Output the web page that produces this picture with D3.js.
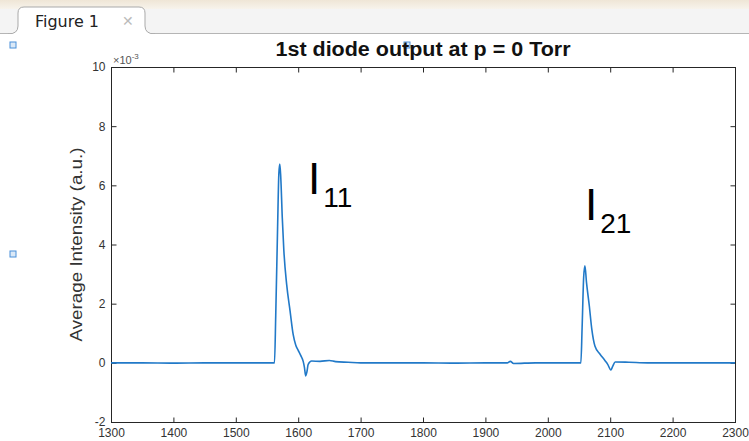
<!DOCTYPE html>
<html>
<head>
<meta charset="utf-8">
<script src="https://cdn.jsdelivr.net/npm/d3@7"></script>
<style>
  body { margin: 0; background: #fff; }
  svg { display: block; font-family: "Liberation Sans", Arial, sans-serif; }
</style>
</head>
<body>
<div id="chart"></div>
<script>
// time axis (x) and diode signal (y, in units of 1e-3)
var timeVals = [1300, 1350, 1400, 1450, 1500, 1540, 1562, 1564, 1567, 1569, 1570.5, 1572, 1574.5, 1577, 1581.5, 1587, 1592, 1596, 1600, 1604, 1608, 1610, 1612, 1614, 1616, 1621.5, 1635, 1650, 1660, 1680, 1700, 1750, 1800, 1850, 1900, 1935, 1940, 1945, 1980, 2020, 2053, 2055, 2057.5, 2059.5, 2062, 2066.5, 2070.5, 2075.5, 2083.5, 2091.5, 2096, 2101, 2104, 2108, 2130, 2160, 2200, 2250, 2300];
var signalVals = [0.0, 0.0, -0.01, 0.0, 0.0, 0.0, 0.0, 1.6, 4.6, 6.4, 6.72, 6.3, 4.9, 3.8, 2.65, 1.75, 0.95, 0.6, 0.42, 0.25, 0.05, -0.15, -0.44, -0.3, -0.05, 0.06, 0.05, 0.08, 0.04, 0.02, 0.0, 0.0, 0.0, -0.01, 0.0, 0.0, 0.05, -0.02, 0.0, 0.0, 0.0, 1.2, 2.9, 3.28, 2.72, 1.93, 1.14, 0.57, 0.3, 0.08, -0.05, -0.24, -0.12, 0.03, 0.02, 0.0, 0.0, 0.0, 0.0];

var xTicks = [1300, 1400, 1500, 1600, 1700, 1800, 1900, 2000, 2100, 2200, 2300];
var yTicks = [-2, 0, 2, 4, 6, 8, 10];

var W = 749, H = 441;
var margin = { left: 111, right: 14, top: 67, bottom: 19 };

var svg = d3.select("#chart").append("svg")
    .attr("width", W)
    .attr("height", H);

// window chrome (figure tab)
var grad = svg.append("defs").append("linearGradient")
    .attr("id", "topgrad").attr("x1", 0).attr("x2", 0).attr("y1", 0).attr("y2", 1);
grad.append("stop").attr("offset", "0%").attr("stop-color", "#efe6d6");
grad.append("stop").attr("offset", "100%").attr("stop-color", "#f7f3ec");
svg.append("rect").attr("x", 0).attr("y", 0).attr("width", W).attr("height", 9)
    .attr("fill", "url(#topgrad)");
svg.append("rect").attr("x", 0).attr("y", 9).attr("width", W).attr("height", 25)
    .attr("fill", "#f4f4f4");
svg.append("line").attr("x1", 0).attr("x2", W).attr("y1", 33.5).attr("y2", 33.5)
    .attr("stroke", "#b5b5b5");
svg.append("path")
    .attr("d", "M8,34 Q18,34 18,26 L18,13 Q18,7 24,7 L139,7 Q145,7 145,13 L145,26 Q145,34 155,34")
    .attr("fill", "#fff").attr("stroke", "#a9a9a9");
svg.append("text").attr("x", 35).attr("y", 27)
    .attr("font-family", "'DejaVu Sans', sans-serif")
    .attr("font-size", 15).attr("fill", "#222")
    .attr("textLength", 64).attr("lengthAdjust", "spacingAndGlyphs")
    .text("Figure 1");
svg.append("text").attr("x", 122).attr("y", 26)
    .attr("font-size", 14).attr("fill", "#bbb").text("\u2715");
svg.append("rect").attr("x", 0).attr("y", 34).attr("width", W).attr("height", H - 34)
    .attr("fill", "#fff");

// selection handles
[[13, 45], [407, 45], [13, 254]].forEach(function(p) {
  svg.append("rect").attr("x", p[0] - 3).attr("y", p[1] - 3)
      .attr("width", 6).attr("height", 6)
      .attr("fill", "#dbe9f7").attr("stroke", "#4a90d9").attr("stroke-width", 1);
});

var x = d3.scaleLinear().domain([1300, 2300]).range([margin.left, W - margin.right]);
var y = d3.scaleLinear().domain([-2, 10]).range([H - margin.bottom, margin.top]);

var axisColor = "#262626";
var plainFmt = function(d) { return String(d); };

// box
svg.append("rect")
    .attr("x", x(1300) + 0.5).attr("y", y(10) + 0.5)
    .attr("width", x(2300) - x(1300)).attr("height", y(-2) - y(10))
    .attr("fill", "none").attr("stroke", axisColor).attr("stroke-width", 1);

function styleAxis(g) {
  g.select(".domain").remove();
  g.selectAll(".tick line").attr("stroke", axisColor);
  g.selectAll(".tick text").attr("fill", "#333").attr("font-size", 12)
      .attr("font-family", "'Liberation Sans', Arial, sans-serif");
}

svg.append("g")
    .attr("transform", "translate(0," + (y(-2) + 0.5) + ")")
    .call(d3.axisBottom(x).tickValues(xTicks).tickSizeInner(-5).tickSizeOuter(0)
        .tickPadding(6).tickFormat(plainFmt))
    .call(styleAxis);
svg.append("g")
    .attr("transform", "translate(0," + (y(10) + 0.5) + ")")
    .call(d3.axisTop(x).tickValues(xTicks).tickSizeInner(-5).tickSizeOuter(0).tickFormat(""))
    .call(styleAxis);
svg.append("g")
    .attr("transform", "translate(" + (x(1300) + 0.5) + ",0)")
    .call(d3.axisLeft(y).tickValues(yTicks).tickSizeInner(-5).tickSizeOuter(0)
        .tickPadding(6).tickFormat(plainFmt))
    .call(styleAxis);
svg.append("g")
    .attr("transform", "translate(" + (x(2300) + 0.5) + ",0)")
    .call(d3.axisRight(y).tickValues(yTicks).tickSizeInner(-5).tickSizeOuter(0).tickFormat(""))
    .call(styleAxis);

// exponent marker
var ex = svg.append("text").attr("x", x(1300) + 2).attr("y", y(10) - 3)
    .attr("font-size", 11).attr("fill", "#555");
ex.append("tspan").text("\u00d710");
ex.append("tspan").attr("dy", -5).attr("font-size", 8).text("-3");

// data line
var pts = timeVals.map(function(t, i) { return [t, signalVals[i]]; });
svg.append("path")
    .datum(pts)
    .attr("fill", "none")
    .attr("stroke", "#2179c8")
    .attr("stroke-width", 1.6)
    .attr("stroke-linejoin", "round")
    .attr("d", d3.line().curve(d3.curveMonotoneX)
        .x(function(d) { return x(d[0]); }).y(function(d) { return y(d[1]); }));

// title
svg.append("text")
    .attr("x", (x(1300) + x(2300)) / 2).attr("y", 56)
    .attr("text-anchor", "middle")
    .attr("font-size", 20).attr("font-weight", "bold").attr("fill", "#111")
    .attr("textLength", 295).attr("lengthAdjust", "spacingAndGlyphs")
    .text("1st diode output at p = 0 Torr");

// y label
svg.append("text")
    .attr("transform", "translate(82," + ((y(10) + y(-2)) / 2) + ") rotate(-90)")
    .attr("text-anchor", "middle")
    .attr("font-size", 17).attr("fill", "#333")
    .attr("textLength", 194).attr("lengthAdjust", "spacingAndGlyphs")
    .text("Average Intensity (a.u.)");

// peak labels
function peakLabel(px, py, sub) {
  var t = svg.append("text").attr("x", px).attr("y", py).attr("fill", "#000");
  t.append("tspan").attr("font-size", 44).text("I");
  t.append("tspan").attr("font-size", 28).attr("dy", 13).attr("dx", 3).text(sub);
}
peakLabel(308, 194, "11");
peakLabel(585, 220, "21");
</script>
</body>
</html>
